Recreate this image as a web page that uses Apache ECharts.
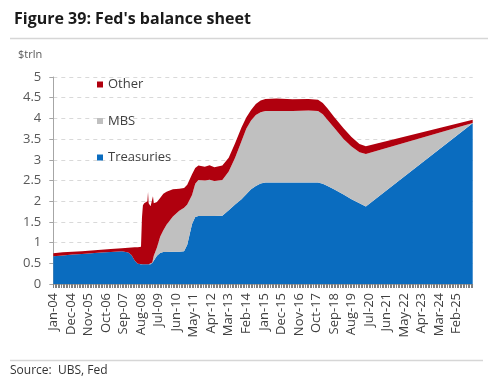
<!DOCTYPE html>
<html><head><meta charset="utf-8">
<script src="https://cdn.jsdelivr.net/npm/echarts@6/dist/echarts.min.js"></script>
<style>html,body{margin:0;padding:0;background:#fff}#c{width:496px;height:384px}</style>
</head><body><div id="c"></div>
<script>
// months since Jan-2004 (fractions mark intra-month moves)
const months = [0,6,12,18,24,30,36,43,47,49,51,53,55,55.6,56.2,57,58,59,59.4,59.8,61,62,62.5,63,65,67,69,71,75,79,82,84,87,89,91,95,98,101,106,110,114,118,121,124,127,130,133,140,150,160,166,169,172,176,182,187,192,196,263];
const treasuries = [0.67,0.69,0.71,0.725,0.745,0.76,0.775,0.79,0.76,0.70,0.57,0.49,0.48,0.48,0.48,0.48,0.48,0.48,0.48,0.48,0.48,0.50,0.53,0.57,0.68,0.75,0.77,0.775,0.78,0.78,0.79,0.95,1.45,1.62,1.64,1.64,1.64,1.64,1.65,1.78,1.92,2.05,2.17,2.29,2.37,2.43,2.45,2.45,2.45,2.45,2.45,2.42,2.37,2.29,2.16,2.05,1.95,1.87,3.88];
const mbs = [0,0,0,0,0,0,0,0,0,0,0,0,0,0,0,0,0,0,0,0,0,0.02,0.07,0.11,0.20,0.39,0.53,0.655,0.85,0.99,1.05,0.97,0.70,0.80,0.87,0.86,0.88,0.85,0.86,0.94,1.13,1.40,1.58,1.66,1.71,1.72,1.73,1.73,1.73,1.74,1.73,1.68,1.59,1.49,1.34,1.27,1.23,1.27,0.01];
const other = [0.07,0.075,0.07,0.065,0.065,0.065,0.07,0.075,0.115,0.18,0.315,0.40,0.42,1.12,1.42,1.47,1.50,1.52,1.74,1.47,1.40,1.40,1.52,1.27,1.10,0.94,0.88,0.80,0.66,0.53,0.48,0.48,0.50,0.38,0.35,0.33,0.35,0.33,0.35,0.33,0.35,0.33,0.27,0.25,0.27,0.28,0.29,0.30,0.28,0.28,0.27,0.27,0.28,0.26,0.26,0.23,0.20,0.19,0.08];
const xLabels = ['Jan-04','Dec-04','Nov-05','Oct-06','Sep-07','Aug-08','Jul-09','Jun-10','May-11','Apr-12','Mar-13','Feb-14','Jan-15','Dec-15','Nov-16','Oct-17','Sep-18','Aug-19','Jul-20','Jun-21','May-22','Apr-23','Mar-24','Feb-25'];
const labelStep = 11;
const seriesNames = ['Treasuries','MBS','Other'];
const seriesValues = [treasuries, mbs, other];
const colors = ['#0a6cbf','#c0c0c0','#b0000e'];
const FONT = 'Open Sans';

const chart = echarts.init(document.getElementById('c'), null, {renderer:'canvas'});
chart.setOption({
  backgroundColor:'#fff',
  animation:false,
  textStyle:{fontFamily:FONT},
  title:{text:"Figure 39: Fed's balance sheet", left:9, top:6,
    textStyle:{fontFamily:FONT, fontSize:16, fontWeight:'bold', color:'#1a1a1a'}},
  graphic:[
    {type:'line', shape:{x1:10,y1:38.5,x2:488,y2:38.5}, style:{stroke:'#d6d6d6', lineWidth:1.5}},
    {type:'line', shape:{x1:10,y1:360.5,x2:483,y2:360.5}, style:{stroke:'#d6d6d6', lineWidth:1.5}},
    {type:'text', left:18, top:49, style:{text:'$trln', fontFamily:FONT, fontSize:11, fill:'#595959'}},
    {type:'text', left:10, top:365, style:{text:'Source:  UBS, Fed', fontFamily:FONT, fontSize:12, fill:'#333'}}
  ],
  legend:{data:['Other','MBS','Treasuries'], orient:'vertical', left:92, top:73,
    itemWidth:6, itemHeight:6, itemGap:23.5, icon:'rect',
    textStyle:{fontFamily:FONT, fontSize:13, color:'#404040'}},
  grid:{left:53.3, right:23.3, top:77, bottom:100, containLabel:false},
  xAxis:{type:'value', min:0, max:263, interval:labelStep,
    axisLine:{show:true, lineStyle:{color:'#a6a6a6'}},
    axisTick:{show:true, length:4, lineStyle:{color:'#808080'}},
    minorTick:{show:true, splitNumber:11, length:4, lineStyle:{color:'#808080'}},
    splitLine:{show:false},
    axisLabel:{rotate:90, fontFamily:FONT, fontSize:13, color:'#404040', margin:9,
      formatter:v=>{const k=Math.round(v/labelStep); return (Math.abs(v-k*labelStep)<1e-6 && k<xLabels.length)?xLabels[k]:'';}}},
  yAxis:{type:'value', min:0, max:5, interval:0.5,
    axisLine:{show:true, lineStyle:{color:'#a6a6a6'}},
    axisTick:{show:true, length:4, lineStyle:{color:'#a6a6a6'}},
    splitLine:{show:true, lineStyle:{color:'#d9d9d9', type:[4,4]}},
    axisLabel:{fontFamily:FONT, fontSize:13, color:'#595959', margin:12}},
  series: seriesNames.map((n,s)=>({
    name:n, type:'line', stack:'total', symbol:'none', smooth:false,
    color:colors[s],
    itemStyle:{color:colors[s]},
    lineStyle:{width:0, color:colors[s]},
    areaStyle:{color:colors[s], opacity:1},
    encode:{x:1, y:0},
    data: months.map((m,i)=>[seriesValues[s][i], m])
  }))
});
</script></body></html>
